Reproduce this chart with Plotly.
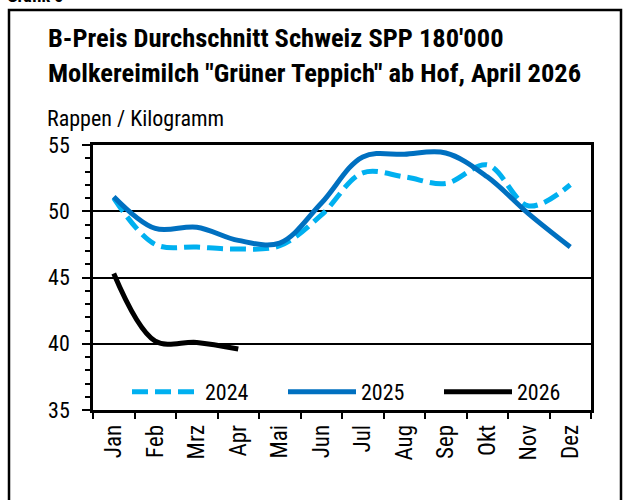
import plotly.graph_objects as go

months = ["Jan", "Feb", "Mrz", "Apr", "Mai", "Jun", "Jul", "Aug", "Sep", "Okt", "Nov", "Dez"]
y2024 = [51.0, 47.5, 47.3, 47.15, 47.4, 49.7, 52.9, 52.6, 52.1, 53.5, 50.4, 52.0]
y2025 = [51.1, 48.7, 48.8, 47.8, 47.6, 50.6, 54.1, 54.3, 54.4, 52.6, 49.8, 47.3]
y2026 = [45.3, 40.2, 40.1, 39.6]
months2026 = months[:4]

FONT = "Liberation Sans Narrow, Roboto Condensed, DejaVu Sans Condensed, Arial Narrow, Liberation Sans, sans-serif"
W, H = 623, 500
L, R, T, B = 93, 591, 145, 410

def px(x):
    return x / W

def py(y):
    return (H - y) / H

fig = go.Figure()
fig.add_trace(go.Scatter(x=months, y=y2024, name="2024", mode="lines",
                         line=dict(color="#00B0F0", width=5, dash="16px,7px", shape="spline", smoothing=1.0)))
fig.add_trace(go.Scatter(x=months, y=y2025, name="2025", mode="lines",
                         line=dict(color="#0070C0", width=5, shape="spline", smoothing=1.0)))
fig.add_trace(go.Scatter(x=months2026, y=y2026, name="2026", mode="lines",
                         line=dict(color="#000000", width=5, shape="spline", smoothing=1.0)))

fig.update_layout(
    width=W, height=H,
    margin=dict(l=0, r=0, t=0, b=0, autoexpand=False),
    paper_bgcolor="white", plot_bgcolor="white",
    font=dict(family=FONT, size=22, color="black"),
    showlegend=True,
    legend=dict(orientation="h", x=px(127), y=py(392), xanchor="left", yanchor="middle",
                font=dict(size=22), bgcolor="rgba(0,0,0,0)", entrywidth=73, entrywidthmode="pixels",
                itemwidth=68, tracegroupgap=0),
    xaxis=dict(domain=[px(L), px(R)], type="category", categoryorder="array", categoryarray=months,
               range=[-0.5, 11.5], showline=True, linecolor="black", linewidth=2.5, mirror=True,
               ticks="outside", ticklen=6, tickwidth=2, tickcolor="black", tickson="boundaries",
               tickangle=-90, tickfont=dict(size=23), ticklabelstandoff=3,
               showgrid=False, zeroline=False, automargin=False),
    yaxis=dict(domain=[py(B), py(T)], range=[35, 55], dtick=5, tick0=35,
               showline=True, linecolor="black", linewidth=2.5, mirror=True,
               ticks="outside", ticklen=8, tickwidth=2, tickcolor="black", ticklabelstandoff=8,
               minor=dict(dtick=1, ticks="outside", ticklen=5, tickwidth=2, tickcolor="black", showgrid=False),
               showgrid=True, gridcolor="black", gridwidth=1.5, zeroline=False, automargin=False,
               tickfont=dict(size=22)),
)

# outer frame
fig.add_shape(type="rect", xref="paper", yref="paper",
              x0=px(9), x1=px(621), y0=-0.05, y1=py(10),
              line=dict(color="black", width=2.5), fillcolor="rgba(0,0,0,0)")

fig.add_annotation(text="<b>Grafik 5</b>", xref="paper", yref="paper", x=px(5), y=py(8),
                   xanchor="left", yanchor="bottom", showarrow=False,
                   font=dict(family=FONT, size=18, color="black"))
fig.add_annotation(text="<b>B-Preis Durchschnitt Schweiz SPP 180'000</b>", xref="paper", yref="paper",
                   x=px(46), y=py(38), xanchor="left", yanchor="middle", showarrow=False,
                   font=dict(family=FONT, size=26.5, color="black"))
fig.add_annotation(text="<b>Molkereimilch \"Grüner Teppich\" ab Hof, April 2026</b>", xref="paper", yref="paper",
                   x=px(46), y=py(72), xanchor="left", yanchor="middle", showarrow=False,
                   font=dict(family=FONT, size=26.5, color="black"))
fig.add_annotation(text="Rappen / Kilogramm", xref="paper", yref="paper",
                   x=px(45), y=py(118), xanchor="left", yanchor="middle", showarrow=False,
                   font=dict(family=FONT, size=22, color="black"))

fig.write_html("out.html", config={"displayModeBar": False},
               post_script="document.body.style.margin='0';document.body.style.overflow='hidden';")
